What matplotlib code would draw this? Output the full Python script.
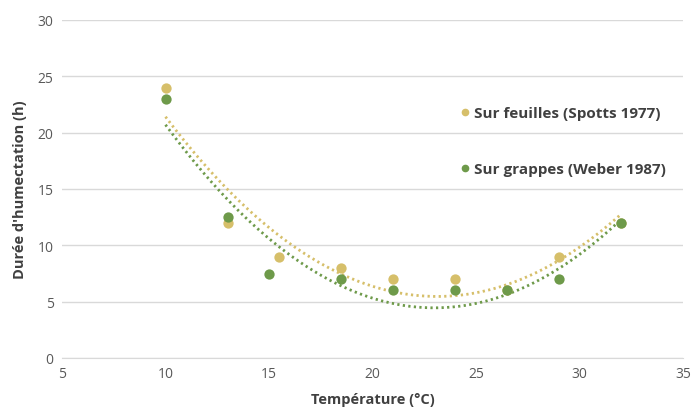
import numpy as np
import matplotlib
matplotlib.use("Agg")
import matplotlib.pyplot as plt
from matplotlib.lines import Line2D

# Data
temp_feuilles = [10, 13, 15.5, 18.5, 21, 24, 26.5, 29, 32]
duree_feuilles = [24, 12, 9, 8, 7, 7, 6, 9, 12]
temp_grappes = [10, 13, 15, 18.5, 21, 24, 26.5, 29, 32]
duree_grappes = [23, 12.5, 7.5, 7, 6, 6, 6, 7, 12]
labels = ["Sur feuilles (Spotts 1977)", "Sur grappes (Weber 1987)"]
xticks = [5, 10, 15, 20, 25, 30, 35]
yticks = [0, 5, 10, 15, 20, 25, 30]

col_y = "#D6BF6A"
col_g = "#6E9A4A"

plt.rcParams['font.family'] = ['Open Sans', 'DejaVu Sans']

fig = plt.figure(figsize=(6.93, 4.10), dpi=100)
ax = fig.add_axes([62/693, 1-359/410, (683-62)/693, (359-21)/410])

for xs, ys, c in [(temp_feuilles, duree_feuilles, col_y), (temp_grappes, duree_grappes, col_g)]:
    p = np.polyfit(xs, ys, 2)
    xx = np.linspace(min(xs), max(xs), 200)
    ax.plot(xx, np.polyval(p, xx), color=c, lw=2.0, linestyle=(0, (0.8, 1.2)), zorder=2)

ax.scatter(temp_feuilles, duree_feuilles, s=55, color=col_y, zorder=3, linewidths=0)
ax.scatter(temp_grappes, duree_grappes, s=55, color=col_g, zorder=4, linewidths=0)

ax.set_xlim(5, 35)
ax.set_ylim(0, 30)
ax.set_xticks(xticks)
ax.set_yticks(yticks)
ax.grid(axis='y', color='#D9D9D9', lw=1)
ax.set_axisbelow(True)
for s in ['top', 'right', 'left']:
    ax.spines[s].set_visible(False)
ax.spines['bottom'].set_color('#D9D9D9')
ax.tick_params(length=0, labelsize=10, colors='#595959', pad=6)
ax.set_xlabel("Température (°C)", fontsize=10.5, fontweight='bold', color='#404040', labelpad=8)
ax.set_ylabel("Durée d'humectation (h)", fontsize=10.5, fontweight='bold', color='#404040', labelpad=8)

handles = [Line2D([], [], marker='o', ls='', color=col_y, markersize=4.5),
           Line2D([], [], marker='o', ls='', color=col_g, markersize=4.5)]
leg = ax.legend(handles, labels, loc='upper left', bbox_to_anchor=(0.614, 0.785), frameon=False,
                labelspacing=2.72, handletextpad=0.1, handlelength=1.0,
                prop={'weight': 'bold', 'size': 11})
for t in leg.get_texts():
    t.set_color('#404040')

fig.savefig("out.png", dpi=100)
